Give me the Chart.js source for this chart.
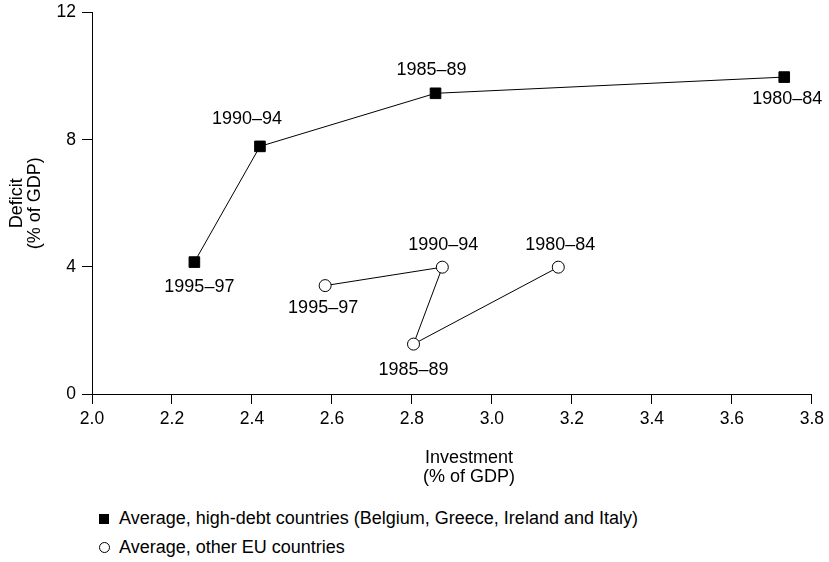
<!DOCTYPE html>
<html>
<head>
<meta charset="utf-8">
<script src="https://cdn.jsdelivr.net/npm/chart.js@4/dist/chart.umd.min.js"></script>
<style>
  html,body{margin:0;padding:0;background:#fff;}
  body{width:829px;height:562px;position:relative;overflow:hidden;font-family:"Liberation Sans",Arial,sans-serif;color:#000;}
  #wrap{position:absolute;left:0;top:0;width:829px;height:490px;}
  #legend{position:absolute;left:99px;top:504px;font-size:18px;line-height:29px;}
  #legend .row{display:flex;align-items:center;height:29px;white-space:nowrap;}
  #legend .sq{width:10px;height:10px;background:#000;margin-right:10px;flex:none;}
  #legend .ci{width:11px;height:11px;border:1px solid #000;border-radius:50%;margin-right:9px;box-sizing:border-box;flex:none;}
</style>
</head>
<body>
<div id="wrap"><canvas id="c"></canvas></div>
<div id="legend">
  <div class="row"><span class="sq"></span>Average, high-debt countries (Belgium, Greece, Ireland and Italy)</div>
  <div class="row"><span class="ci"></span>Average, other EU countries</div>
</div>
<script>
const periods = ['1995–97','1990–94','1985–89','1980–84'];
const highInvest = [2.256, 2.42, 2.859, 3.731];
const highDeficit = [4.15, 7.79, 9.46, 9.97];
const otherInvest = [2.583, 2.876, 2.804, 3.166];
const otherDeficit = [3.41, 3.99, 1.57, 3.99];
const xTicks = [2.0,2.2,2.4,2.6,2.8,3.0,3.2,3.4,3.6,3.8];
const yTicks = [0,4,8,12];

const FONT = '"Liberation Sans", Arial, sans-serif';
// label offsets from each point (px)
const highOff = [[5,25],[-13,-27],[-4,-23],[3,22]];
const otherOff = [[-2,22],[1,-22],[0,26],[2,-22]];

const pts = (xs, ys)=>xs.map((x,i)=>({x, y:ys[i]}));

const pointLabels = {
  id:'pointLabels',
  afterDatasetsDraw(chart){
    const {ctx, chartArea, scales:{x, y}} = chart;
    ctx.save();
    ctx.font = '18px '+FONT; ctx.fillStyle='#000';
    ctx.textAlign='center'; ctx.textBaseline='middle';
    const draw = (xs, ys, off)=>xs.forEach((v,i)=>{
      ctx.fillText(periods[i], x.getPixelForValue(v)+off[i][0], y.getPixelForValue(ys[i])+off[i][1]);
    });
    draw(highInvest, highDeficit, highOff);
    draw(otherInvest, otherDeficit, otherOff);
    // x axis title, a little right of the plot centre
    const cx = (chartArea.left+chartArea.right)/2 + 17;
    ctx.fillText('Investment', cx, chartArea.bottom+64);
    ctx.fillText('(% of GDP)', cx, chartArea.bottom+83);
    ctx.restore();
  }
};

const ctx = document.getElementById('c');
new Chart(ctx, {
  type:'line',
  data:{datasets:[
    {label:'Average, high-debt countries (Belgium, Greece, Ireland and Italy)', data:pts(highInvest, highDeficit),
     borderColor:'#000', borderWidth:1, backgroundColor:'#000', pointStyle:'rect', pointRadius:7.5,
     pointBorderWidth:1, pointBorderColor:'#000', pointBackgroundColor:'#000', tension:0},
    {label:'Average, other EU countries', data:pts(otherInvest, otherDeficit),
     borderColor:'#000', borderWidth:1, pointStyle:'circle', pointRadius:6,
     pointBorderWidth:1, pointBorderColor:'#000', pointBackgroundColor:'#fff', tension:0}
  ]},
  options:{
    responsive:true, maintainAspectRatio:false, animation:false,
    layout:{padding:{top:0,right:17,left:8,bottom:0}},
    plugins:{legend:{display:false}, tooltip:{enabled:false}},
    scales:{
      x:{type:'linear', min:2.0, max:3.8,
        afterBuildTicks:(s)=>{s.ticks = xTicks.map(v=>({value:v}));},
        afterFit:(s)=>{s.height = 96;},
        grid:{display:true, drawOnChartArea:false, drawTicks:true, tickLength:10, color:'#000', tickColor:'#000'},
        border:{display:true, color:'#000', width:1},
        ticks:{color:'#000', font:{family:FONT, size:17.5}, padding:5, maxRotation:0, callback:(v)=>v.toFixed(1)}
      },
      y:{type:'linear', min:0, max:12,
        afterBuildTicks:(s)=>{s.ticks = yTicks.map(v=>({value:v}));},
        afterFit:(s)=>{s.width = 84;},
        grid:{display:true, drawOnChartArea:false, drawTicks:true, tickLength:10, color:'#000', tickColor:'#000'},
        border:{display:true, color:'#000', width:1},
        ticks:{color:'#000', font:{family:FONT, size:17.5, lineHeight:0.75}, padding:6},
        title:{display:true, text:['Deficit','(% of GDP)'], color:'#000', font:{family:FONT, size:18, lineHeight:1.0}, padding:{top:0,bottom:4}}
      }
    }
  },
  plugins:[pointLabels]
});
</script>
</body>
</html>
